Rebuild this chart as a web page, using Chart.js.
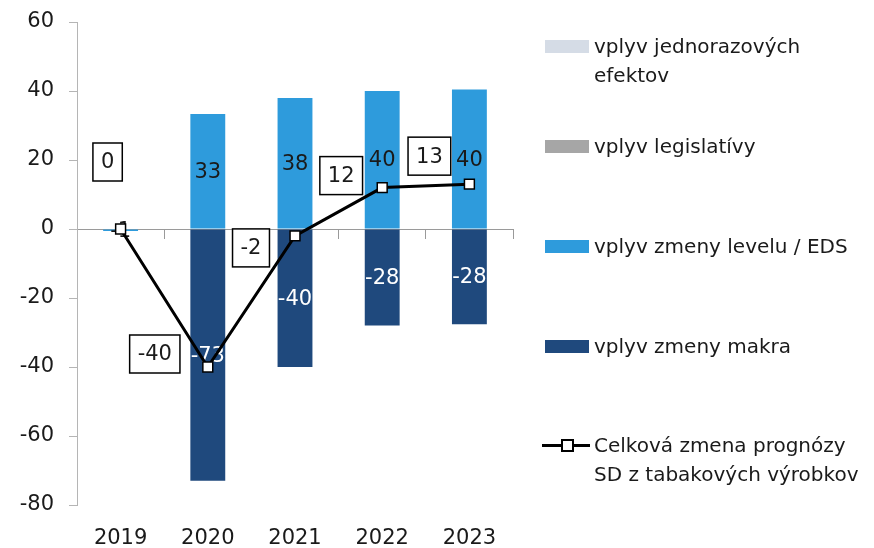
<!DOCTYPE html>
<html lang="sk">
<head>
<meta charset="utf-8">
<script src="https://cdn.jsdelivr.net/npm/chart.js@4/dist/chart.umd.min.js"></script>
<style>
    html, body { margin: 0; padding: 0; background: #fff; }
    #wrap { position: relative; width: 874px; height: 548px; }
    #legend { position: absolute; left: 0; top: 0; font-family: "DejaVu Sans", sans-serif; font-size: 20px; color: #1a1a1a; }
    .item { position: absolute; left: 594px; width: 280px; line-height: 29px; }
    .swatch { position: absolute; left: -49px; top: 8px; width: 44px; height: 13px; }
    .lineKey { position: absolute; left: -52px; top: 13px; width: 48px; height: 3px; background: #000; }
    .lineKey span { position: absolute; left: 19px; top: -5px; width: 9px; height: 9px; background: #fff; border: 2px solid #000; }
</style>
</head>
<body>
<div id="wrap">
    <canvas id="chart"></canvas>
    <div id="legend"></div>
</div>
<script>
// data
const years = ['2019', '2020', '2021', '2022', '2023'];
const jednorazove = [0, 0, 0, 0, 0];
const legislativa = [0, 0, 0, 0, 0];
const levelEds = [-0.6, 33.3, 38, 40, 40.4];
const makro = [0, -73, -40, -28, -27.6];
const celkova = [0, -40, -2, 12, 13];

// posun rámčekov s hodnotami čiary (stred rámčeka voči bodu)
const boxOffsets = [[-13, -67], [-53, -13], [-44, 12], [-41, -12], [-40, -28]];
// vertikálne pozície položiek legendy
const legendTops = [32, 132, 232, 332, 431];

const FONT = '"DejaVu Sans", sans-serif';
Chart.defaults.font.family = FONT;
Chart.defaults.font.size = 21;
Chart.defaults.color = '#1a1a1a';

// hodnoty v stĺpcoch (pod čiarou)
const barLabels = {
    id: 'barLabels',
    afterDatasetDraw(chart, args) {
        const ds = chart.data.datasets[args.index];
        if (ds.type === 'line') return;
        const ctx = chart.ctx;
        ctx.save();
        ctx.font = '21px ' + FONT;
        ctx.fillStyle = ds.labelColor;
        ctx.textAlign = 'center';
        ctx.textBaseline = 'middle';
        args.meta.data.forEach((bar, i) => {
            const v = ds.data[i];
            if (!v) return;
            const p = bar.getProps(['x', 'y', 'base'], true);
            ctx.fillText(String(Math.round(v)), p.x, (p.y + p.base) / 2 + 1);
        });
        ctx.restore();
    }
};

// rámčeky s hodnotami celkovej zmeny
const boxLabels = {
    id: 'boxLabels',
    afterDatasetsDraw(chart) {
        const idx = chart.data.datasets.findIndex(d => d.type === 'line');
        const meta = chart.getDatasetMeta(idx);
        const ctx = chart.ctx;
        ctx.save();
        ctx.font = '21px ' + FONT;
        ctx.textAlign = 'center';
        ctx.textBaseline = 'middle';
        meta.data.forEach((pt, i) => {
            const txt = String(Math.round(celkova[i]));
            const cx = pt.x + boxOffsets[i][0];
            const cy = pt.y + boxOffsets[i][1];
            const w = ctx.measureText(txt).width + 16;
            const h = 38;
            ctx.fillStyle = '#fff';
            ctx.fillRect(cx - w / 2, cy - h / 2, w, h);
            ctx.strokeStyle = '#000';
            ctx.lineWidth = 1.5;
            ctx.strokeRect(cx - w / 2, cy - h / 2, w, h);
            ctx.fillStyle = '#1a1a1a';
            ctx.fillText(txt, cx, cy + 1);
        });
        ctx.restore();
    }
};

const chart = new Chart(document.getElementById('chart'), {
    data: {
        labels: years,
        datasets: [
            { type: 'line', label: 'Celková zmena prognózy SD z tabakových výrobkov', data: celkova,
              borderColor: '#000', borderWidth: 3, tension: 0,
              pointStyle: 'rect', pointRadius: 7, pointBackgroundColor: '#fff',
              pointBorderColor: '#000', pointBorderWidth: 1.5, order: 0 },
            { type: 'bar', label: 'vplyv jednorazových efektov', data: jednorazove,
              backgroundColor: '#d5dce6', labelColor: '#1a1a1a', order: 1 },
            { type: 'bar', label: 'vplyv legislatívy', data: legislativa,
              backgroundColor: '#a6a6a6', labelColor: '#1a1a1a', order: 1 },
            { type: 'bar', label: 'vplyv zmeny levelu / EDS', data: levelEds,
              backgroundColor: '#2e9bdc', labelColor: '#1a1a1a', order: 1 },
            { type: 'bar', label: 'vplyv zmeny makra', data: makro,
              backgroundColor: '#1f497d', labelColor: '#fff', order: 1 }
        ]
    },
    options: {
        responsive: true,
        maintainAspectRatio: false,
        animation: false,
        datasets: { bar: { barPercentage: 0.4, categoryPercentage: 1 } },
        layout: { padding: { top: 22, right: 361, left: 0, bottom: 0 } },
        scales: {
            x: {
                stacked: true,
                grid: { display: false },
                border: { display: false },
                ticks: { padding: 13, color: '#1a1a1a' },
                afterFit: s => { s.height = 43; }
            },
            x2: {
                axis: 'x',
                type: 'category',
                labels: years,
                position: { y: 0 },
                offset: true,
                grid: { offset: true, drawOnChartArea: false, drawTicks: true, tickLength: 9, color: '#9a9a9a' },
                border: { color: '#9a9a9a', width: 1 },
                ticks: { display: false }
            },
            y: {
                stacked: true,
                min: -80,
                max: 60,
                ticks: { stepSize: 20, padding: 15, color: '#1a1a1a' },
                grid: { drawOnChartArea: false, tickLength: 8, tickColor: '#b5b5b5' },
                border: { color: '#b5b5b5' },
                afterFit: s => { s.width = 77; s.paddingTop = 0; s.paddingBottom = 0; }
            }
        },
        plugins: {
            legend: { display: false },
            tooltip: { enabled: false }
        }
    },
    plugins: [barLabels, boxLabels]
});

// HTML legenda zostavená z datasetov
const legend = document.getElementById('legend');
const legendOrder = [1, 2, 3, 4, 0];
legendOrder.forEach((di, k) => {
    const ds = chart.data.datasets[di];
    const item = document.createElement('div');
    item.className = 'item';
    item.style.top = legendTops[k] + 'px';
    if (ds.type === 'line') {
        item.innerHTML = '<div class="lineKey"><span></span></div>';
    } else {
        item.innerHTML = '<div class="swatch" style="background:' + ds.backgroundColor + '"></div>';
    }
    item.appendChild(document.createTextNode(ds.label));
    legend.appendChild(item);
});
</script>
</body>
</html>
